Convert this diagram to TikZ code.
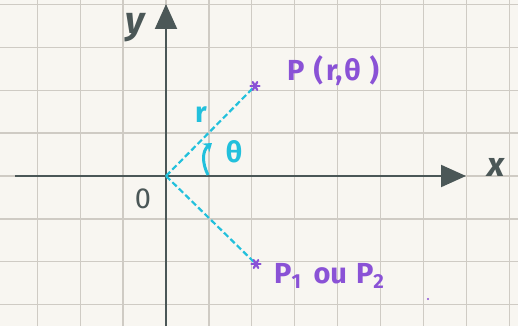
\documentclass[tikz,border=0pt]{standalone}
\usepackage{fontspec}
\setmainfont{Fira Sans}
\usetikzlibrary{arrows.meta}
\definecolor{paper}{HTML}{F8F6F1}
\definecolor{gridc}{HTML}{CFCBC4}
\definecolor{axisc}{HTML}{4B5757}
\definecolor{purp}{HTML}{8A52D6}
\definecolor{cyanc}{HTML}{22C0DC}
\tikzset{
  gridline/.style={draw=gridc, line width=1.3pt},
  axisline/.style={draw=axisc, line width=2pt, -{Triangle[length=25pt,width=22pt]}},
  radius line/.style={draw=cyanc, line width=2.2pt, dash pattern=on 6pt off 3pt},
  ptlabel/.style={text=purp, font=\fontsize{29}{29}\selectfont\bfseries, inner sep=0pt},
  cylabel/.style={text=cyanc, font=\fontsize{29}{29}\selectfont\bfseries, inner sep=0pt},
  axlabel/.style={text=axisc, font=\fontsize{29}{29}\selectfont\bfseries, inner sep=0pt},
  starmark/.style={draw=purp, line width=2.2pt, line cap=round}
}
\begin{document}
\begin{tikzpicture}[x=1pt,y=-1pt]
\useasboundingbox (0,0) rectangle (518,326);
\fill[paper] (0,0) rectangle (518,326);
% grid
\foreach \k in {-3,...,8} \draw[gridline] ({166+42.9*\k},0) -- ({166+42.9*\k},326);
\foreach \k in {-4,...,3} \draw[gridline] (0,{176+42.9*\k}) -- (518,{176+42.9*\k});
% axes
\coordinate (O) at (166,176);
\coordinate (xs) at (15,176);
\coordinate (xe) at (466,176);
\coordinate (ys) at (166,326);
\coordinate (ye) at (166,4);
\draw[axisline] (xs) -- (xe);
\draw[axisline] (ys) -- (ye);
\node[axlabel, font=\fontsize{34}{34}\selectfont\itshape\bfseries] (xl) at (496,167) {x};
\node[axlabel, font=\fontsize{38}{38}\selectfont\itshape\bfseries] (yl) at (135,28) {y};
\node[axlabel, font=\fontsize{29}{29}\selectfont] (ol) at (143,199) {0};
% points
\coordinate (P) at (255,86);
\coordinate (P1) at (256,264);
\draw[radius line] (O) -- (P);
\draw[radius line] (O) -- (P1);
\foreach \a in {0,60,120} {
  \draw[starmark] (P) ++(\a:4.5) -- ++(\a+180:9);
  \draw[starmark] (P1) ++(\a:4.5) -- ++(\a+180:9);
}
\node[ptlabel, anchor=base west] (Pl) at (287,81) {P\hspace{9pt}(\hspace{3pt}r,\hspace{2pt}θ\hspace{9pt})};
\node[ptlabel, anchor=base west] (P1l) at (274,283) {P\textsubscript{1}\hspace{12pt}ou\hspace{9pt}P\textsubscript{2}};
% angle
\coordinate (a0) at (208,175);
\coordinate (a1) at (212,143);
\draw[cyanc, line width=3pt, -{Stealth[length=8pt,width=11pt]}] (a0) .. controls (202,163) and (202,151) .. (a1);
\node[cylabel] (th) at (234,152) {θ};
\node[cylabel] (rl) at (201,115) {r};
% stray dot
\fill[purp] (428,299) circle (1.1);
\end{tikzpicture}
\end{document}
